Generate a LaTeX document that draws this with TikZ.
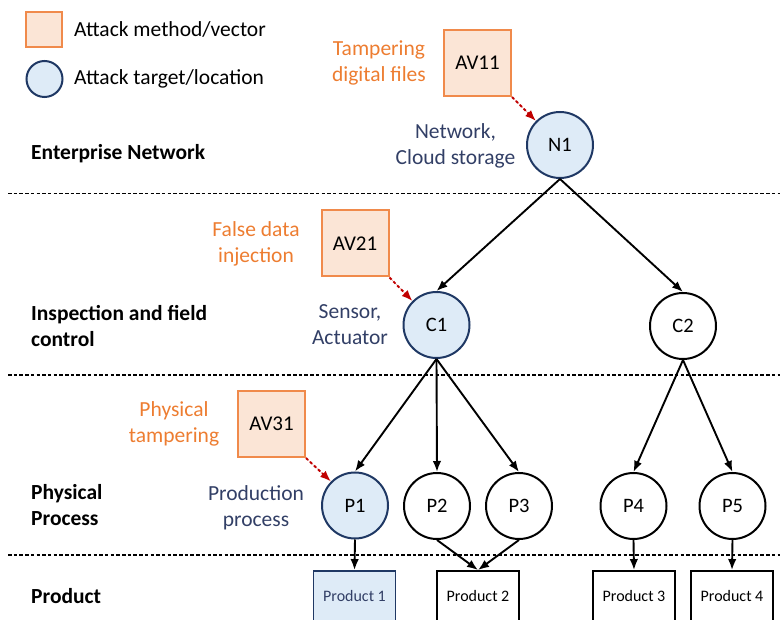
\documentclass[tikz,border=0pt]{standalone}
\usepackage{fontspec}
\setmainfont{Carlito}
\usetikzlibrary{arrows.meta}
\definecolor{avfill}{HTML}{FBE5D6}
\definecolor{avdraw}{HTML}{F08A4B}
\definecolor{orangetxt}{HTML}{ED7D31}
\definecolor{tgtfill}{HTML}{DEEBF7}
\definecolor{tgtdraw}{HTML}{1F3864}
\definecolor{bluetxt}{HTML}{323F66}
\definecolor{atkred}{HTML}{C00000}
\begin{document}
\begin{tikzpicture}[x=1pt,y=-1pt,
  txt/.style={font=\fontsize{21.5}{26}\selectfont, inner sep=0pt, align=center},
  layertxt/.style={font=\bfseries\fontsize{21.5}{26}\selectfont, inner sep=0pt, align=left, anchor=west},
  avbox/.style={draw=avdraw, fill=avfill, line width=2pt, minimum width=67pt, minimum height=66pt, inner sep=0pt, font=\fontsize{21}{25}\selectfont},
  circ/.style={circle, draw=black, line width=2pt, minimum size=66pt, inner sep=0pt, font=\fontsize{20.5}{24}\selectfont},
  tgt/.style={circ, draw=tgtdraw, fill=tgtfill},
  prod/.style={draw=black, line width=1.9pt, minimum width=82pt, minimum height=50pt, inner sep=0pt, font=\fontsize{16}{19}\selectfont},
  prodtgt/.style={prod, draw=tgtdraw, fill=tgtfill, text=bluetxt},
  layerline/.style={line width=1.7pt, dash pattern=on 3.5pt off 2.2pt},
  flow/.style={line width=1.9pt, -{Latex[length=11pt,width=8.5pt]}},
  attack/.style={line width=1.9pt, draw=atkred, dash pattern=on 3pt off 2.5pt, -{Latex[length=11pt,width=8.5pt]}, fill=atkred}
]
\useasboundingbox (0,0) rectangle (780,620);

% legend
\node[avbox, minimum width=36pt, minimum height=35pt] (legsq) at (44,29.5) {};
\node[tgt, minimum size=36pt] (legci) at (44.5,79) {};
\node[txt, anchor=west] (legsqt) at (74,29) {Attack method/vector};
\node[txt, anchor=west] (legcit) at (74,79) {Attack target/location};

% layer separators
\coordinate (s1a) at (8,193.5); \coordinate (s1b) at (780,193.5);
\coordinate (s2a) at (8,375); \coordinate (s2b) at (780,375);
\coordinate (s3a) at (8,555); \coordinate (s3b) at (780,555);
\draw[layerline] (s1a) -- (s1b);
\draw[layerline] (s2a) -- (s2b);
\draw[layerline] (s3a) -- (s3b);

% layer names
\node[layertxt] (l1) at (31,154) {Enterprise Network};
\node[layertxt] (l2) at (31,326) {Inspection and field\\control};
\node[layertxt] (l3) at (31,505.5) {Physical\\Process};
\node[layertxt] (l4) at (31,596) {Product};

% attack vectors
\node[avbox] (AV11) at (477.5,63) {AV11};
\node[avbox] (AV21) at (355,243.5) {AV21};
\node[avbox] (AV31) at (271.5,424) {AV31};
\node[txt, text=orangetxt] (t11) at (379,63) {Tampering\\digital files};
\node[txt, text=orangetxt] (t21) at (256,244) {False data\\injection};
\node[txt, text=orangetxt] (t31) at (174,424) {Physical\\tampering};

% targets
\node[tgt] (N1) at (560,145) {N1};
\node[tgt] (C1) at (436.5,325) {C1};
\node[circ] (C2) at (683,326) {C2};
\node[tgt] (P1) at (355,505.5) {P1};
\node[circ] (P2) at (437,506) {P2};
\node[circ] (P3) at (519,506) {P3};
\node[circ] (P4) at (633.5,506) {P4};
\node[circ] (P5) at (732.5,506) {P5};
\node[txt, text=bluetxt] (tN1) at (455.5,145.5) {Network,\\Cloud storage};
\node[txt, text=bluetxt] (tC1) at (350,325) {Sensor,\\Actuator};
\node[txt, text=bluetxt] (tP1) at (256,507.5) {Production\\process};

% products
\node[prodtgt] (Pr1) at (354.5,596) {Product 1};
\node[prod] (Pr2) at (478,596) {Product 2};
\node[prod] (Pr3) at (634,596) {Product 3};
\node[prod] (Pr4) at (732,596) {Product 4};

% connectors
\draw[flow] (N1.south) -- (C1.north);
\draw[flow] (N1.south) -- (C2.north);
\draw[flow] (C1.south) -- (P1.north);
\draw[flow] (C1.south) -- (P2.north);
\draw[flow] (C1.south) -- (P3.north);
\draw[flow] (C2.south) -- (P4.north);
\draw[flow] (C2.south) -- (P5.north);
\draw[flow] (P1.south) -- (Pr1.north);
\draw[flow] (P2.south) -- (Pr2.north);
\draw[flow] (P3.south) -- (Pr2.north);
\draw[flow] (P4.south) -- (Pr3.north);
\draw[flow] (P5.south) -- (Pr4.north);

\draw[attack] (AV11.south east) -- (N1.135);
\draw[attack] (AV21.south east) -- (C1.135);
\draw[attack] (AV31.south east) -- (P1.135);
\end{tikzpicture}
\end{document}
